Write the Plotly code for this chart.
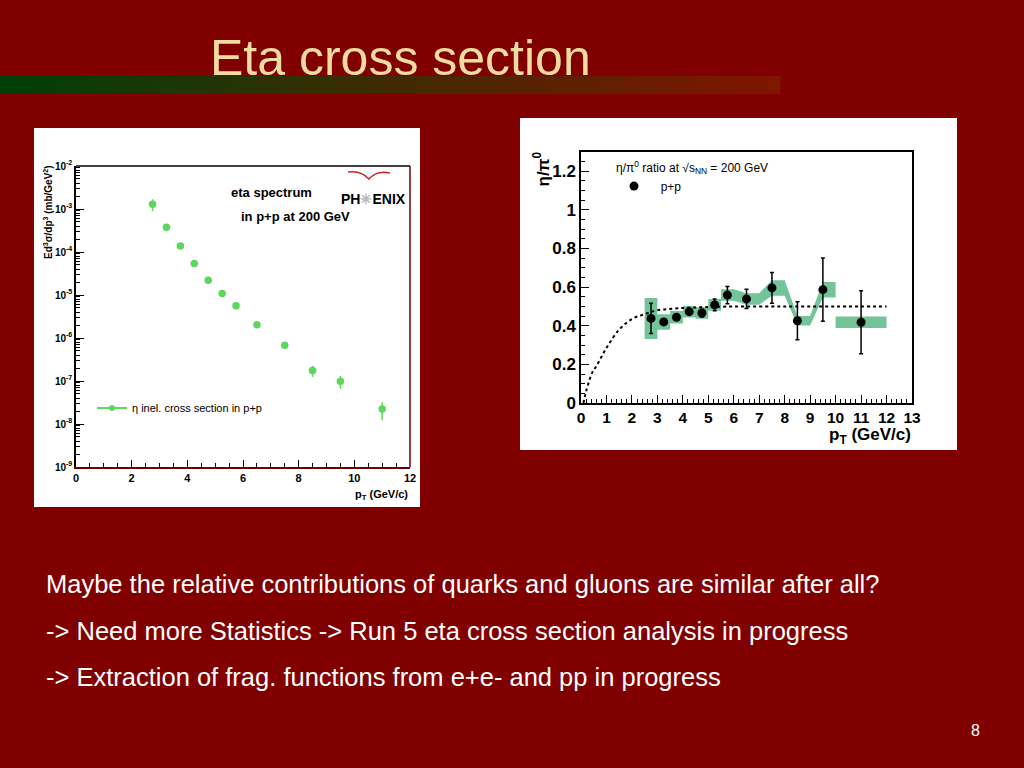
import plotly.graph_objects as go

# ---------------- data ----------------
spec_pt = [2.75, 3.25, 3.75, 4.25, 4.75, 5.25, 5.75, 6.5, 7.5, 8.5, 9.5, 11.0]
spec_val = [1.29e-3, 3.76e-4, 1.38e-4, 5.4e-5, 2.2e-5, 1.08e-5, 5.6e-6, 2.02e-6, 6.8e-7, 1.75e-7, 9.9e-8, 2.22e-8]
spec_err = [4.0e-4, 3e-5, 1.2e-5, 4e-6, 2e-6, 1e-6, 5e-7, 2e-7, 1.0e-7, 5e-8, 3.3e-8, 1.0e-8]
spec_ytickvals = [1e-9, 1e-8, 1e-7, 1e-6, 1e-5, 1e-4, 1e-3, 1e-2]
spec_yticktext = ["10<sup>-9</sup>", "10<sup>-8</sup>", "10<sup>-7</sup>", "10<sup>-6</sup>",
                  "10<sup>-5</sup>", "10<sup>-4</sup>", "10<sup>-3</sup>", "10<sup>-2</sup>"]

ratio_pt = [2.75, 3.25, 3.75, 4.25, 4.75, 5.25, 5.75, 6.5, 7.5, 8.5, 9.5, 11.0]
ratio_val = [0.438, 0.42, 0.444, 0.473, 0.466, 0.508, 0.559, 0.539, 0.596, 0.426, 0.587, 0.418]
ratio_stat = [0.078, 0.012, 0.012, 0.015, 0.02, 0.03, 0.045, 0.05, 0.08, 0.098, 0.164, 0.163]
ratio_sys = [0.106, 0.04, 0.032, 0.03, 0.03, 0.03, 0.03, 0.03, 0.04, 0.024, 0.04, 0.03]
band_lo = [2.5, 3.0, 3.5, 4.0, 4.5, 5.0, 5.5, 6.5, 7.5, 8.5, 9.5, 10.0]
band_hi = [3.0, 3.5, 4.0, 4.5, 5.0, 5.5, 6.0, 7.0, 8.0, 9.0, 10.0, 12.0]

fit_pt = [0.1, 0.2, 0.45, 0.6, 1.0, 1.5, 2.0, 2.5, 3.0, 4.0, 5.0, 6.0, 8.0, 10.0, 12.0]
fit_val = [0.0, 0.06, 0.16, 0.19, 0.285, 0.38, 0.435, 0.46, 0.48, 0.492, 0.497, 0.5, 0.5, 0.5, 0.5]

body_lines = [
    "Maybe the relative contributions of quarks and gluons are similar after all?",
    "-> Need more Statistics -> Run 5 eta cross section analysis in progress",
    "-> Extraction of frag. functions from e+e- and pp in progress",
]

W, H = 1024, 768
BG = "#800000"
FONT = "Liberation Sans"


def px(x):
    return x / W


def py(y):
    return 1 - y / H


# band polygon built from the systematic arrays
band_x_up, band_y_up, band_x_dn, band_y_dn = [], [], [], []
for lo, hi, v, s in zip(band_lo, band_hi, ratio_val, ratio_sys):
    band_x_up += [lo, hi]
    band_y_up += [v + s, v + s]
    band_x_dn += [lo, hi]
    band_y_dn += [v - s, v - s]
band_x = band_x_up + band_x_dn[::-1] + [band_x_up[0]]
band_y = band_y_up + band_y_dn[::-1] + [band_y_up[0]]

# log minor tick positions (2..9 per decade)
log_minor = [k * 10.0 ** e for e in range(-9, -2) for k in range(2, 10)]

fig = go.Figure()

# ---- left: spectrum ----
fig.add_trace(go.Scatter(
    x=spec_pt, y=spec_val, mode="markers", xaxis="x", yaxis="y",
    marker=dict(color="#5cd65c", size=7.5),
    error_y=dict(type="data", array=spec_err, color="#5cd65c", thickness=1.5, width=0),
    showlegend=False,
))
fig.add_trace(go.Scatter(
    x=[None], y=[None], mode="lines+markers", xaxis="x", yaxis="y",
    line=dict(color="#5cd65c", width=2), marker=dict(color="#5cd65c", size=6),
    name="η inel. cross section in p+p", legend="legend",
))

# ---- right: ratio ----
fig.add_trace(go.Scatter(
    x=band_x, y=band_y, mode="lines", fill="toself", xaxis="x2", yaxis="y2",
    fillcolor="#74c49a", line=dict(width=0, color="#74c49a"), showlegend=False,
    hoverinfo="skip",
))
fig.add_trace(go.Scatter(
    x=fit_pt, y=fit_val, mode="lines", xaxis="x2", yaxis="y2",
    line=dict(color="black", width=2, dash="dot", shape="spline"), showlegend=False,
))
fig.add_trace(go.Scatter(
    x=ratio_pt, y=ratio_val, mode="markers", xaxis="x2", yaxis="y2",
    marker=dict(color="black", size=9),
    error_y=dict(type="data", array=ratio_stat, color="black", thickness=1.5, width=2),
    name="\u00a0\u00a0p+p", legend="legend2",
))

shapes = []
# white panels
shapes.append(dict(type="rect", xref="paper", yref="paper", x0=px(34), x1=px(420), y0=py(507), y1=py(128),
                   fillcolor="white", line=dict(width=0), layer="below"))
shapes.append(dict(type="rect", xref="paper", yref="paper", x0=px(520), x1=px(957), y0=py(450), y1=py(118),
                   fillcolor="white", line=dict(width=0), layer="below"))
# gradient bar under the title
nseg = 60
x_end = 780
c0 = (0, 64, 8)
c1 = (128, 22, 0)
for i in range(nseg):
    t = i / (nseg - 1)
    col = "rgb(%d,%d,%d)" % tuple(int(a + (b - a) * t) for a, b in zip(c0, c1))
    shapes.append(dict(type="rect", xref="paper", yref="paper",
                       x0=px(x_end * i / nseg), x1=px(x_end * (i + 1) / nseg + 0.5),
                       y0=py(94), y1=py(76), fillcolor=col, line=dict(width=0), layer="below"))
# frame pieces for left chart (top black, right maroon)
shapes.append(dict(type="line", xref="paper", yref="paper", x0=px(76), x1=px(410), y0=py(166), y1=py(166),
                   line=dict(color="black", width=1.5)))
shapes.append(dict(type="line", xref="paper", yref="paper", x0=px(410), x1=px(410), y0=py(166), y1=py(467),
                   line=dict(color="#6a0000", width=1.5)))
# PHENIX logo arc
shapes.append(dict(type="path", xref="paper", yref="paper",
                   path="M %f,%f Q %f,%f %f,%f Q %f,%f %f,%f" % (
                       px(348), py(172), px(361), py(170), px(369), py(179),
                       px(377), py(170), px(390), py(173)),
                   line=dict(color="#d42020", width=1.5)))

annotations = []
# title
annotations.append(dict(text="Eta cross section", x=px(400), y=py(58), xref="paper", yref="paper",
                        showarrow=False, xanchor="center", yanchor="middle",
                        font=dict(family=FONT, size=50, color="#F0DCA0")))
# body text
for txt, yy in zip(body_lines, [584, 631, 677]):
    annotations.append(dict(text=txt, x=px(44), y=py(yy), xref="paper", yref="paper",
                            showarrow=False, xanchor="left", yanchor="middle",
                            font=dict(family=FONT, size=25.5, color="white")))
annotations.append(dict(text="8", x=px(982), y=py(741), xref="paper", yref="paper", showarrow=False,
                        font=dict(family=FONT, size=16, color="white")))
# left chart texts
annotations.append(dict(text="<b>eta spectrum</b>", x=px(229), y=py(183), xref="paper", yref="paper",
                        showarrow=False, font=dict(family=FONT, size=13, color="black")))
annotations.append(dict(text="<b>in p+p at 200 GeV</b>", x=px(239), y=py(207), xref="paper", yref="paper",
                        showarrow=False, font=dict(family=FONT, size=13, color="black")))
annotations.append(dict(text="<b>PH<span style='color:#b8b8b8'>✳</span>ENIX</b>", x=px(373), y=py(189),
                        xref="paper", yref="paper", showarrow=False,
                        font=dict(family=FONT, size=14, color="black")))
annotations.append(dict(text="<b>p<sub>T</sub> (GeV/c)</b>", x=px(410), y=py(495), xref="paper", yref="paper",
                        showarrow=False, xanchor="right", yanchor="middle",
                        font=dict(family=FONT, size=11, color="black")))
annotations.append(dict(text="<b>Ed<sup>3</sup>σ/dp<sup>3</sup> (mb/GeV<sup>2</sup>)</b>", x=px(48), y=py(163),
                        xref="paper", yref="paper", showarrow=False, textangle=-90,
                        xanchor="center", yanchor="top",
                        font=dict(family=FONT, size=10, color="black")))
# right chart texts
annotations.append(dict(text="<b>p<sub>T</sub> (GeV/c)</b>", x=px(913), y=py(436), xref="paper", yref="paper",
                        showarrow=False, xanchor="right", yanchor="middle",
                        font=dict(family=FONT, size=17, color="black")))
annotations.append(dict(text="<b>η/π<sup>0</sup></b>", x=px(541), y=py(150), xref="paper", yref="paper",
                        showarrow=False, textangle=-90, xanchor="center", yanchor="top",
                        font=dict(family=FONT, size=17, color="black")))

axis_font_l = dict(family=FONT, size=11, color="black", weight="bold")
axis_font_r = dict(family=FONT, size=15.5, color="black", weight="bold")

fig.update_layout(
    width=W, height=H, margin=dict(l=0, r=0, t=0, b=0, pad=0, autoexpand=False),
    paper_bgcolor=BG, plot_bgcolor="white",
    shapes=shapes, annotations=annotations,
    xaxis=dict(domain=[px(76), px(410)], range=[0, 12], dtick=2, ticks="inside", ticklen=7,
               tickcolor="black", showline=True, linecolor="#6a0000", linewidth=1.5,
               showgrid=False, zeroline=False, tickfont=axis_font_l, anchor="y",
               ticklabelstandoff=0, automargin=False,
               minor=dict(ticks="inside", ticklen=4, dtick=0.5, tickcolor="black")),
    yaxis=dict(domain=[py(467), py(166)], type="log", range=[-9, -2], tickvals=spec_ytickvals,
               ticktext=spec_yticktext, ticks="inside", ticklen=8, tickcolor="black",
               showline=True, linecolor="black", linewidth=1.5, showgrid=False, zeroline=False,
               tickfont=dict(family=FONT, size=10, color="black", weight="bold"), anchor="x",
               automargin=False,
               minor=dict(ticks="inside", ticklen=4, tickcolor="black", showgrid=False,
                          tickmode="array", tickvals=log_minor)),
    xaxis2=dict(domain=[px(581), px(912)], range=[0, 13], dtick=1, ticks="inside", ticklen=8,
                tickcolor="black", showline=True, linecolor="black", linewidth=1.5, mirror=True,
                showgrid=False, zeroline=False, tickfont=axis_font_r, anchor="y2",
                ticklabelstandoff=0, automargin=False,
                minor=dict(ticks="inside", ticklen=4, dtick=0.2, tickcolor="black")),
    yaxis2=dict(domain=[py(403), py(152)], range=[0, 1.3], dtick=0.2, ticks="inside", ticklen=8,
                tickcolor="black", showline=True, linecolor="black", linewidth=1.5, mirror=True,
                showgrid=False, zeroline=False, tickfont=dict(family=FONT, size=17, color="black", weight="bold"),
                anchor="x2", automargin=False,
                minor=dict(ticks="inside", ticklen=4, dtick=0.05, tickcolor="black")),
    legend=dict(x=px(92), y=py(408), xanchor="left", yanchor="middle", bgcolor="rgba(0,0,0,0)",
                font=dict(family=FONT, size=11, color="black"), borderwidth=0),
    legend2=dict(x=px(614), y=py(156), xanchor="left", yanchor="top", bgcolor="rgba(0,0,0,0)",
                 font=dict(family=FONT, size=12, color="black"), borderwidth=0,
                 title=dict(text="η/π<sup>0</sup> ratio at √s<sub>NN</sub> = 200 GeV",
                            font=dict(family=FONT, size=12, color="black"))),
)

fig.write_html(
    "out.html",
    config={"displayModeBar": False},
    post_script=("document.documentElement.style.margin='0';document.body.style.margin='0';"
                 "document.documentElement.style.overflow='hidden';document.body.style.overflow='hidden';"),
)
